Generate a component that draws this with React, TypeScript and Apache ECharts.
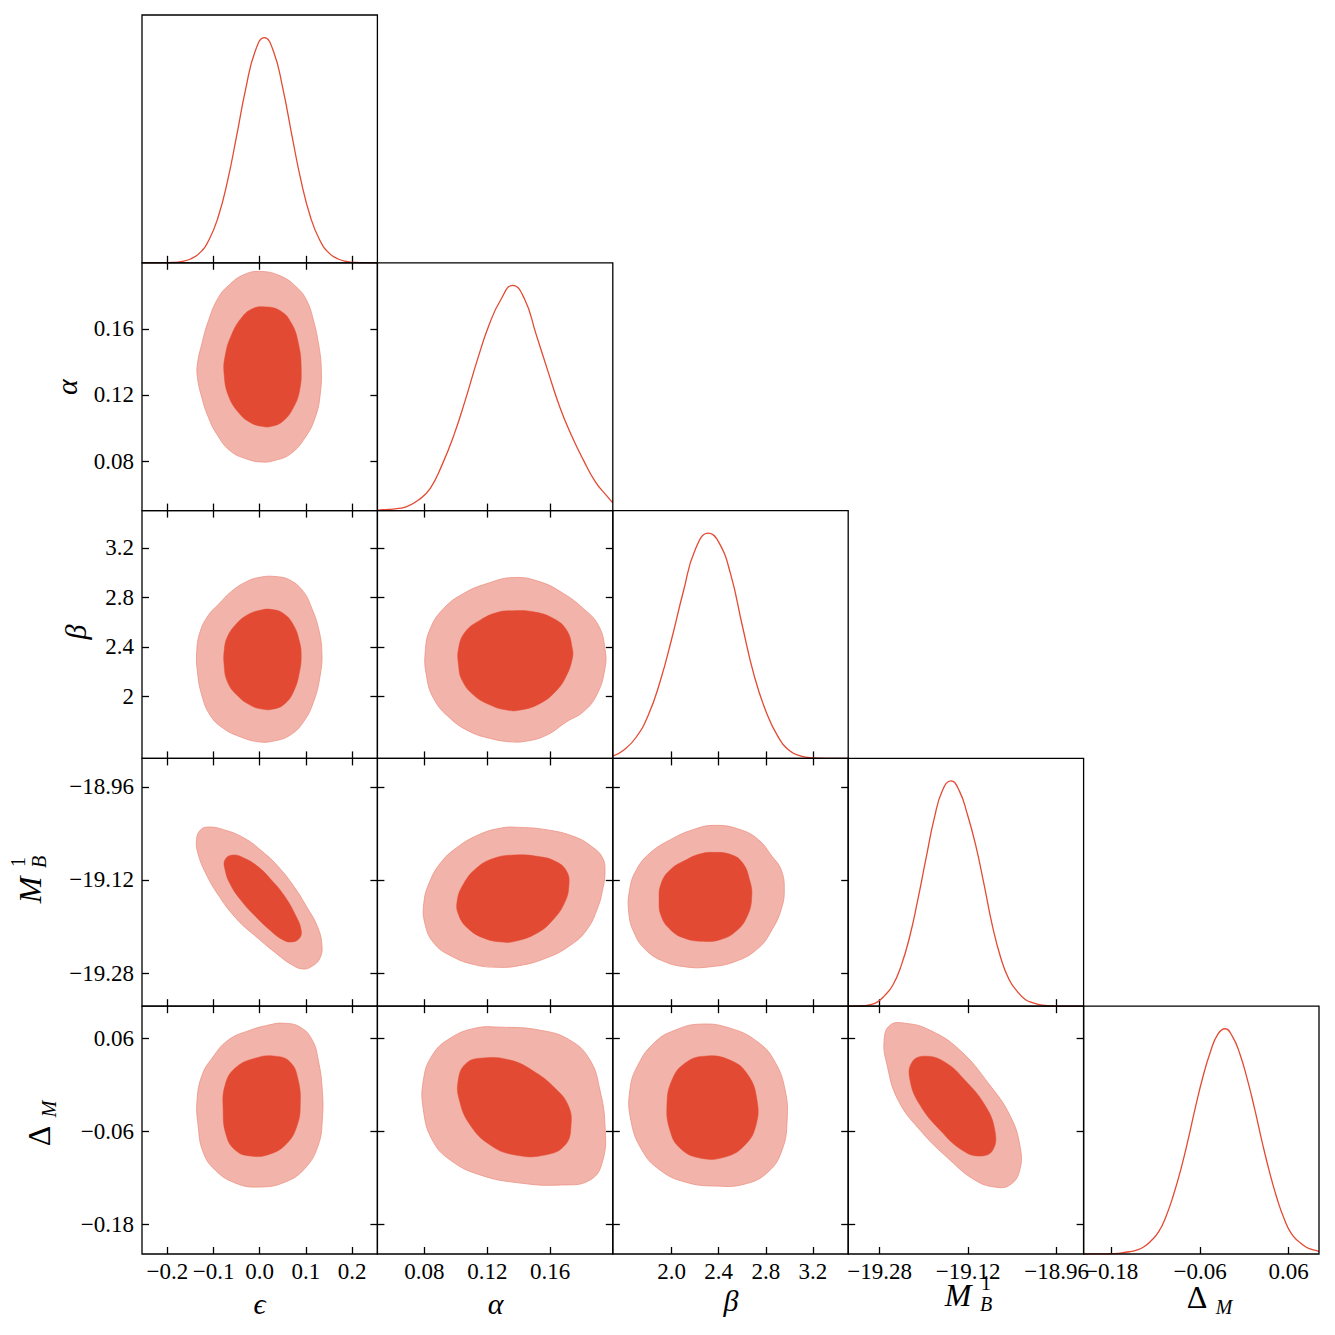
import React, { useEffect, useRef } from "react";
import * as echarts from "echarts";

const FONT = "'Liberation Serif', 'DejaVu Serif', serif";
const LINE_RED = "#e34a33";
const DARK_FILL = "#e24a33";
const LIGHT_FILL = "#f2b4aa";
const LIGHT_EDGE = "#ec9284";

// axis ranges per parameter: epsilon, alpha, beta, M_B^1, Delta_M
const ranges: [number, number][] = [
  [-0.255, 0.255],
  [0.05, 0.2],
  [1.5, 3.5],
  [-19.337, -18.911],
  [-0.218, 0.101],
];

const epsTicks = [-0.2, -0.1, 0, 0.1, 0.2];
const epsTickLabels = ["−0.2", "−0.1", "0.0", "0.1", "0.2"];
const alphaTicks = [0.08, 0.12, 0.16];
const alphaTickLabels = ["0.08", "0.12", "0.16"];
const betaTicks = [2.0, 2.4, 2.8, 3.2];
const betaXTickLabels = ["2.0", "2.4", "2.8", "3.2"];
const betaYTickLabels = ["2", "2.4", "2.8", "3.2"];
const mbTicks = [-19.28, -19.12, -18.96];
const mbTickLabels = ["−19.28", "−19.12", "−18.96"];
const dmTicks = [-0.18, -0.06, 0.06];
const dmTickLabels = ["−0.18", "−0.06", "0.06"];

// 1D marginals (x, normalised density)
const epsMarginal = [
  [-0.255, 0], [-0.25, 0], [-0.23, 0.0001], [-0.21, 0.0005], [-0.19, 0.0017], [-0.17, 0.0057],
  [-0.15, 0.0169], [-0.13, 0.0439], [-0.11, 0.101], [-0.09, 0.203], [-0.07, 0.36], [-0.05, 0.563],
  [-0.03, 0.775], [-0.01, 0.938], [0.01, 1.0], [0.03, 0.938], [0.05, 0.775], [0.07, 0.563],
  [0.09, 0.36], [0.11, 0.203], [0.13, 0.101], [0.15, 0.0439], [0.17, 0.0169], [0.19, 0.0057],
  [0.21, 0.0017], [0.23, 0.0005], [0.25, 0.0001], [0.255, 0],
];
const alphaMarginal = [
  [0.05, 0.002], [0.0537, 0.004], [0.0612, 0.008], [0.0687, 0.018], [0.0762, 0.047], [0.0837, 0.099],
  [0.0912, 0.203], [0.0987, 0.334], [0.1062, 0.495], [0.1137, 0.669], [0.1212, 0.825], [0.1287, 0.937],
  [0.1362, 1.0], [0.1437, 0.94], [0.1512, 0.781], [0.1587, 0.618], [0.1662, 0.46], [0.1737, 0.333],
  [0.1812, 0.225], [0.1887, 0.13], [0.1962, 0.065], [0.2, 0.034],
];
const betaMarginal = [
  [1.5, 0.01], [1.6, 0.04], [1.7, 0.095], [1.8, 0.19], [1.9, 0.338], [2.0, 0.53], [2.1, 0.742],
  [2.2, 0.926], [2.314, 1.0], [2.4, 0.96], [2.5, 0.82], [2.6, 0.59], [2.7, 0.37], [2.8, 0.21],
  [2.9, 0.1], [3.0, 0.035], [3.1, 0.01], [3.2, 0.002], [3.3, 0], [3.4, 0], [3.5, 0],
];
const mbMarginal = [
  [-19.337, 0], [-19.3311, 0.0005], [-19.3161, 0.0015], [-19.3011, 0.005], [-19.2861, 0.016],
  [-19.2711, 0.047], [-19.2561, 0.094], [-19.2411, 0.18], [-19.2261, 0.305], [-19.2111, 0.472],
  [-19.1961, 0.657], [-19.1811, 0.836], [-19.1661, 0.96], [-19.1511, 1.0], [-19.1361, 0.957],
  [-19.1211, 0.85], [-19.1061, 0.713], [-19.0911, 0.54], [-19.0761, 0.358], [-19.0611, 0.216],
  [-19.0461, 0.12], [-19.0311, 0.066], [-19.0161, 0.029], [-19.0011, 0.014], [-18.9861, 0.005],
  [-18.9711, 0.002], [-18.9561, 0.0005], [-18.94, 0], [-18.911, 0],
];
const dmMarginal = [
  [-0.218, 0], [-0.2062, 0.0002], [-0.1962, 0.0005], [-0.1862, 0.001], [-0.1762, 0.002],
  [-0.1662, 0.005], [-0.1562, 0.01], [-0.1462, 0.017], [-0.1362, 0.032], [-0.1262, 0.06],
  [-0.1162, 0.099], [-0.1062, 0.168], [-0.0962, 0.262], [-0.0862, 0.376], [-0.0762, 0.51],
  [-0.0662, 0.655], [-0.0562, 0.788], [-0.0462, 0.897], [-0.0362, 0.975], [-0.0262, 1.0],
  [-0.0162, 0.965], [-0.0062, 0.888], [0.0038, 0.776], [0.0138, 0.644], [0.0238, 0.499],
  [0.0338, 0.366], [0.0438, 0.25], [0.0538, 0.156], [0.0638, 0.089], [0.0738, 0.055],
  [0.0838, 0.03], [0.0938, 0.018], [0.101, 0.012],
];

// 2D contours (95% outer, 68% inner)
const epsAlpha95 = [[-0.0005,0.1948],[0.0444,0.1921],[0.0805,0.1851],[0.1022,0.177],[0.1167,0.1649],[0.1275,0.1508],[0.1333,0.1367],[0.1311,0.1205],[0.1203,0.1064],[0.0986,0.0943],[0.0661,0.0842],[0.0299,0.0802],[0.0046,0.0794],[-0.0279,0.0812],[-0.0641,0.0862],[-0.093,0.0963],[-0.1111,0.1064],[-0.1255,0.1185],[-0.1349,0.1306],[-0.1349,0.1387],[-0.1255,0.1508],[-0.1111,0.1649],[-0.0894,0.179],[-0.0641,0.1871],[-0.0352,0.1927]];
const epsAlpha68 = [[0.0082,0.1734],[0.0444,0.171],[0.0697,0.1629],[0.0841,0.1508],[0.0899,0.1367],[0.0863,0.1225],[0.0733,0.1125],[0.0516,0.1044],[0.0263,0.101],[0.0046,0.101],[-0.0207,0.1034],[-0.046,0.1094],[-0.0677,0.1195],[-0.0771,0.1326],[-0.0749,0.1437],[-0.0605,0.1568],[-0.0388,0.1669],[-0.0171,0.172]];
const epsBeta95 = [[0.0335,2.968],[0.0661,2.938],[0.095,2.844],[0.113,2.71],[0.1275,2.548],[0.1347,2.36],[0.1311,2.172],[0.1167,1.957],[0.095,1.796],[0.0661,1.688],[0.0299,1.64],[-0.0026,1.634],[-0.0424,1.675],[-0.0786,1.742],[-0.1075,1.849],[-0.1255,2.011],[-0.1349,2.199],[-0.1364,2.36],[-0.1291,2.522],[-0.1111,2.656],[-0.089,2.745],[-0.0605,2.85],[-0.0279,2.928],[0.001,2.962]];
const epsBeta68 = [[0.0263,2.702],[0.0516,2.669],[0.0733,2.575],[0.0863,2.441],[0.0899,2.333],[0.0863,2.199],[0.0747,2.051],[0.0552,1.944],[0.0299,1.898],[0.0046,1.898],[-0.0207,1.93],[-0.0496,2.011],[-0.0699,2.118],[-0.0771,2.253],[-0.0764,2.387],[-0.0699,2.481],[-0.0532,2.575],[-0.0279,2.656],[0.001,2.696]];
const alphaBeta95 = [[0.1367,2.96],[0.1537,2.925],[0.1685,2.831],[0.1812,2.71],[0.1908,2.575],[0.195,2.387],[0.195,2.226],[0.1897,2.011],[0.1812,1.876],[0.1706,1.796],[0.1579,1.688],[0.1452,1.64],[0.1346,1.634],[0.1219,1.661],[0.1091,1.715],[0.0964,1.823],[0.0858,1.984],[0.0812,2.172],[0.0805,2.36],[0.0837,2.548],[0.0922,2.71],[0.1049,2.831],[0.1198,2.911]];
const alphaBeta68 = [[0.1346,2.691],[0.1494,2.683],[0.1622,2.629],[0.1706,2.535],[0.1742,2.387],[0.1742,2.307],[0.1706,2.172],[0.1643,2.051],[0.1537,1.944],[0.141,1.89],[0.1325,1.89],[0.1219,1.93],[0.1113,2.011],[0.1039,2.132],[0.1017,2.253],[0.1017,2.387],[0.106,2.522],[0.1155,2.616],[0.1261,2.677]];
const epsMb95 = [[-0.1123,-19.029],[-0.078,-19.0336],[-0.0339,-19.0479],[0.0053,-19.0708],[0.0396,-19.0966],[0.0739,-19.131],[0.1033,-19.1682],[0.1249,-19.1997],[0.1347,-19.2312],[0.1307,-19.2541],[0.1131,-19.2684],[0.0935,-19.273],[0.069,-19.2655],[0.0347,-19.2455],[-0.0045,-19.2197],[-0.0486,-19.1882],[-0.0878,-19.1481],[-0.1172,-19.108],[-0.1339,-19.0737],[-0.1368,-19.0508],[-0.129,-19.0347]];
const epsMb68 = [[-0.0584,-19.0771],[-0.0339,-19.0823],[-0.0045,-19.0966],[0.0249,-19.1195],[0.0543,-19.1481],[0.0788,-19.1825],[0.0896,-19.2054],[0.0866,-19.2197],[0.069,-19.2266],[0.0494,-19.2226],[0.0249,-19.2083],[-0.0094,-19.1825],[-0.0388,-19.1567],[-0.0633,-19.1281],[-0.0751,-19.1023],[-0.0751,-19.0852]];
const alphaMb95 = [[0.1404,-19.0296],[0.1577,-19.0336],[0.1749,-19.045],[0.1864,-19.0622],[0.1935,-19.0823],[0.195,-19.108],[0.1935,-19.1367],[0.1907,-19.1653],[0.1835,-19.2054],[0.172,-19.234],[0.1577,-19.2541],[0.1404,-19.2673],[0.1261,-19.2701],[0.1117,-19.2655],[0.0974,-19.2512],[0.0859,-19.2283],[0.0802,-19.194],[0.0796,-19.1596],[0.083,-19.1252],[0.0902,-19.0909],[0.1002,-19.0651],[0.1146,-19.0422],[0.129,-19.0307]];
const alphaMb68 = [[0.1376,-19.0771],[0.1519,-19.0794],[0.1634,-19.088],[0.1706,-19.1052],[0.172,-19.131],[0.1692,-19.1596],[0.162,-19.1882],[0.1519,-19.2111],[0.1376,-19.2255],[0.129,-19.2266],[0.1175,-19.2197],[0.1074,-19.2025],[0.1017,-19.1796],[0.1008,-19.1567],[0.1046,-19.1281],[0.1132,-19.0995],[0.1247,-19.0823]];
const betaMb95 = [[2.373,-19.0261],[2.585,-19.0336],[2.738,-19.0508],[2.853,-19.0794],[2.93,-19.1023],[2.957,-19.1367],[2.93,-19.171],[2.853,-19.2054],[2.738,-19.2369],[2.546,-19.2598],[2.315,-19.2695],[2.124,-19.2695],[1.931,-19.2598],[1.778,-19.2398],[1.682,-19.2111],[1.636,-19.1768],[1.643,-19.1367],[1.701,-19.1023],[1.816,-19.0737],[1.989,-19.0508],[2.181,-19.0336]];
const betaMb68 = [[2.354,-19.0725],[2.508,-19.0766],[2.604,-19.0909],[2.662,-19.1195],[2.681,-19.1481],[2.642,-19.1825],[2.546,-19.2083],[2.412,-19.2226],[2.258,-19.2255],[2.104,-19.2197],[1.989,-19.2054],[1.912,-19.1825],[1.893,-19.1539],[1.912,-19.1252],[1.989,-19.1023],[2.124,-19.0852],[2.239,-19.0754]];
const epsDm95 = [[0.051,0.0791],[0.0879,0.074],[0.1139,0.0573],[0.1269,0.0316],[0.1356,-0.007],[0.1356,-0.0456],[0.1269,-0.0778],[0.0987,-0.1073],[0.0553,-0.1253],[-0.0033,-0.1318],[-0.0532,-0.1266],[-0.0966,-0.1099],[-0.1226,-0.0868],[-0.1335,-0.052],[-0.1357,-0.0199],[-0.1248,0.0123],[-0.1031,0.0341],[-0.0684,0.0573],[-0.0207,0.0701],[0.0184,0.0766]];
const epsDm68 = [[0.0336,0.0367],[0.0662,0.029],[0.0835,0.0058],[0.0879,-0.0263],[0.0814,-0.052],[0.0597,-0.0752],[0.0228,-0.0893],[-0.0206,-0.0919],[-0.0532,-0.0842],[-0.0727,-0.0649],[-0.0792,-0.0327],[-0.0749,-0.0006],[-0.0532,0.0213],[-0.0098,0.0341]];
const alphaDm95 = [[0.1282,0.074],[0.1537,0.0701],[0.1727,0.0573],[0.1855,0.0316],[0.1918,-0.007],[0.195,-0.052],[0.1937,-0.097],[0.1855,-0.1228],[0.1664,-0.1292],[0.1409,-0.1266],[0.1155,-0.1163],[0.0964,-0.097],[0.085,-0.0713],[0.0793,-0.0327],[0.0793,0.0058],[0.085,0.038],[0.0964,0.0598],[0.1123,0.0727]];
const alphaDm68 = [[0.1155,0.0341],[0.1346,0.0316],[0.1505,0.0161],[0.1632,-0.0045],[0.1715,-0.0263],[0.1734,-0.052],[0.1696,-0.0778],[0.1568,-0.0906],[0.1378,-0.0906],[0.1219,-0.0778],[0.1091,-0.052],[0.1022,-0.0199],[0.1015,0.0058],[0.106,0.0264]];
const betaDm95 = [[2.24,0.0779],[2.496,0.0727],[2.734,0.0547],[2.879,0.029],[2.964,-0.007],[2.981,-0.0456],[2.938,-0.0842],[2.819,-0.1125],[2.623,-0.1279],[2.368,-0.1305],[2.113,-0.1253],[1.9,-0.1099],[1.747,-0.0842],[1.653,-0.0456],[1.645,-0.007],[1.713,0.0251],[1.857,0.0547],[2.028,0.0701]];
const betaDm68 = [[2.283,0.0367],[2.496,0.0316],[2.649,0.0123],[2.725,-0.0199],[2.717,-0.052],[2.623,-0.0778],[2.453,-0.0932],[2.24,-0.0945],[2.07,-0.0816],[1.985,-0.0585],[1.96,-0.0263],[2.002,0.0058],[2.113,0.0277]];
const mbDm95 = [[-19.2612,0.0766],[-19.2341,0.0791],[-19.189,0.0701],[-19.1348,0.0444],[-19.0807,-0.0006],[-19.0446,-0.0392],[-19.0265,-0.0778],[-19.0265,-0.1099],[-19.0446,-0.1292],[-19.0717,-0.1318],[-19.1078,-0.1228],[-19.1529,-0.097],[-19.207,-0.0585],[-19.2467,-0.0199],[-19.2666,0.0251],[-19.272,0.0573]];
const mbDm68 = [[-19.198,0.0367],[-19.1619,0.029],[-19.1258,0.0058],[-19.0897,-0.0263],[-19.0717,-0.0585],[-19.0753,-0.0842],[-19.0988,-0.0919],[-19.1312,-0.0842],[-19.1709,-0.0585],[-19.207,-0.0263],[-19.2251,0.0058],[-19.2215,0.029]];

const ticksByParam = [epsTicks, alphaTicks, betaTicks, mbTicks, dmTicks];
const xLabelsByParam = [epsTickLabels, alphaTickLabels, betaXTickLabels, mbTickLabels, dmTickLabels];
const yLabelsByParam = [epsTickLabels, alphaTickLabels, betaYTickLabels, mbTickLabels, dmTickLabels];
const marginals = [epsMarginal, alphaMarginal, betaMarginal, mbMarginal, dmMarginal];
const contours: Record<string, number[][][]> = {
  "1-0": [epsAlpha95, epsAlpha68],
  "2-0": [epsBeta95, epsBeta68],
  "2-1": [alphaBeta95, alphaBeta68],
  "3-0": [epsMb95, epsMb68],
  "3-1": [alphaMb95, alphaMb68],
  "3-2": [betaMb95, betaMb68],
  "4-0": [epsDm95, epsDm68],
  "4-1": [alphaDm95, alphaDm68],
  "4-2": [betaDm95, betaDm68],
  "4-3": [mbDm95, mbDm68],
};

const N = 5;
const GRID_LEFT = 142;
const GRID_TOP = 15;
const CELL_W = 235.4;
const CELL_H = 247.8;

function valueAxis(kind: "x" | "y", p: number, gridIndex: number, position: string, showLabel: boolean) {
  const ticks = ticksByParam[p];
  const labels = kind === "x" ? xLabelsByParam[p] : yLabelsByParam[p];
  return {
    type: "value",
    gridIndex,
    position,
    min: ranges[p][0],
    max: ranges[p][1],
    axisLine: { show: false, onZero: false },
    splitLine: { show: false },
    axisTick: {
      show: true,
      inside: true,
      length: 7,
      lineStyle: { color: "#000", width: 1.3 },
      customValues: ticks,
    },
    axisLabel: {
      show: showLabel,
      customValues: ticks,
      margin: kind === "x" ? 6 : 8,
      color: "#000",
      fontSize: 23,
      fontFamily: FONT,
      formatter: (v: number) => {
        const i = ticks.findIndex((t) => Math.abs(t - v) < 1e-6);
        return i >= 0 ? labels[i] : "";
      },
    },
  };
}

type Part = { t: string; dx: number; dy: number; size: number; italic?: boolean };

function mathLabel(x: number, y: number, rotated: boolean, parts: Part[]) {
  return {
    type: "group",
    x,
    y,
    rotation: rotated ? Math.PI / 2 : 0,
    children: parts.map((p) => ({
      type: "text",
      x: p.dx,
      y: p.dy,
      style: {
        text: p.t,
        fill: "#000",
        fontSize: p.size,
        fontFamily: FONT,
        fontStyle: p.italic ? "italic" : "normal",
        lineHeight: Math.round(p.size * 0.7),
        align: "center",
        verticalAlign: "middle",
        textAlign: "center",
        textVerticalAlign: "middle",
      },
    })),
  };
}

const titleParts: Part[][] = [
  [{ t: "ϵ", dx: 0, dy: -3, size: 30, italic: true }],
  [{ t: "α", dx: 0, dy: -3, size: 30, italic: true }],
  [{ t: "β", dx: 0, dy: -2, size: 30, italic: true }],
  [
    { t: "M", dx: 0, dy: 0, size: 32, italic: true },
    { t: "B", dx: 28, dy: 9, size: 20, italic: true },
    { t: "1", dx: 28, dy: -12, size: 20 },
  ],
  [
    { t: "Δ", dx: 0, dy: 0, size: 32 },
    { t: "M", dx: 27, dy: 10, size: 20, italic: true },
  ],
];
const xTitlePos = [[259.5, 1306.7], [495.7, 1306], [731, 1302], [958, 1295], [1197, 1297]];
const yTitlePos = [[0, 0], [69.7, 387], [77, 632], [30, 890], [39, 1136]];

function buildOption() {
  const grid: any[] = [];
  const xAxis: any[] = [];
  const yAxis: any[] = [];
  const series: any[] = [];
  let gi = 0;
  for (let r = 0; r < N; r++) {
    for (let c = 0; c <= r; c++) {
      grid.push({
        left: GRID_LEFT + c * CELL_W,
        top: GRID_TOP + r * CELL_H,
        width: CELL_W,
        height: CELL_H,
        show: true,
        z: 3,
        borderColor: "#000",
        borderWidth: 1.3,
        backgroundColor: "transparent",
      });
      const isDiag = r === c;
      xAxis.push(valueAxis("x", c, gi, "bottom", r === N - 1));
      const xIdx = xAxis.length - 1;
      let yIdx: number;
      if (isDiag) {
        yAxis.push({ type: "value", gridIndex: gi, min: 0, max: 1.1, show: false });
        yIdx = yAxis.length - 1;
        series.push({
          type: "line",
          z: 1,
          xAxisIndex: xIdx,
          yAxisIndex: yIdx,
          data: marginals[c],
          smooth: 0.5,
          showSymbol: false,
          symbol: "none",
          silent: true,
          lineStyle: { color: LINE_RED, width: 1.3 },
        });
      } else {
        yAxis.push(valueAxis("y", r, gi, "left", c === 0));
        yIdx = yAxis.length - 1;
        xAxis.push(valueAxis("x", c, gi, "top", false));
        yAxis.push(valueAxis("y", r, gi, "right", false));
        const [outer, inner] = contours[`${r}-${c}`];
        const mk = (pts: number[][], fill: string, stroke: string, lw: number) => ({
          type: "custom",
          z: 1,
          coordinateSystem: "cartesian2d",
          xAxisIndex: xIdx,
          yAxisIndex: yIdx,
          data: pts,
          silent: true,
          clip: false,
          renderItem: (params: any, api: any) => {
            if (params.dataIndex !== 0) return null;
            const points = pts.map((p) => api.coord(p));
            return {
              type: "polygon",
              shape: { points, smooth: 0.45 },
              style: { fill, stroke, lineWidth: lw },
            };
          },
        });
        series.push(mk(outer, LIGHT_FILL, LIGHT_EDGE, 0.8));
        series.push(mk(inner, DARK_FILL, DARK_FILL, 0.5));
      }
      gi++;
    }
  }
  const graphic: any[] = [];
  for (let p = 0; p < N; p++) {
    graphic.push(mathLabel(xTitlePos[p][0], xTitlePos[p][1], false, titleParts[p]));
    if (p > 0) graphic.push(mathLabel(yTitlePos[p][0], yTitlePos[p][1], true, titleParts[p]));
  }
  return {
    animation: false,
    backgroundColor: "#fff",
    textStyle: { fontFamily: FONT },
    grid,
    xAxis,
    yAxis,
    series,
    graphic,
  };
}

export default function App() {
  const ref = useRef<HTMLDivElement>(null);
  useEffect(() => {
    if (!ref.current) return;
    const chart = echarts.init(ref.current, undefined, { renderer: "svg" });
    chart.setOption(buildOption() as any);
    return () => chart.dispose();
  }, []);
  return (
    <div
      ref={ref}
      style={{ position: "absolute", left: 0, top: 0, width: 1335, height: 1335, background: "#fff" }}
    />
  );
}
